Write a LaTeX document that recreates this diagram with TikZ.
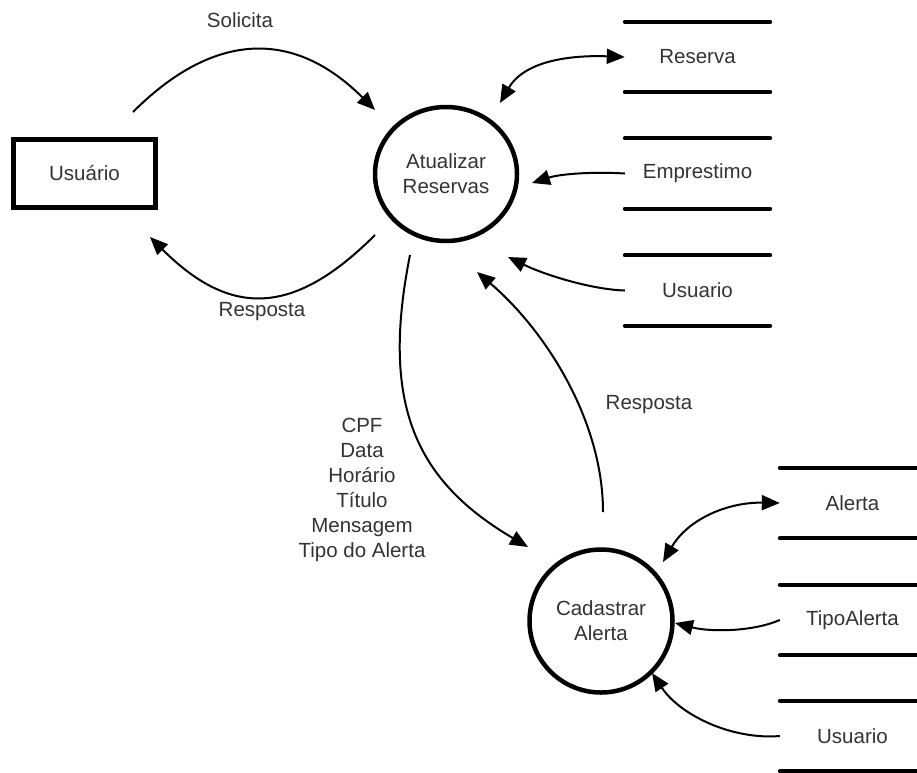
\documentclass[tikz,border=0pt]{standalone}
\usepackage{fontspec}
\setmainfont{Liberation Sans}
\usetikzlibrary{arrows.meta,shapes.geometric,calc}
\definecolor{ink}{HTML}{333333}
\begin{document}
\begin{tikzpicture}[x=1pt,y=-1pt,
  every node/.style={font=\fontsize{20.5}{25}\selectfont, text=ink, align=center, inner sep=0pt},
  process/.style={draw=black, line width=4.5pt, ellipse},
  entity/.style={draw=black, line width=5pt, rectangle, minimum width=142pt, minimum height=68pt},
  store/.style={minimum width=145pt, minimum height=70pt},
  storeline/.style={line width=4pt, line cap=round},
  tip/.style={Triangle[length=18pt,width=15pt]},
  flow/.style={line width=2pt, -{Triangle[length=18pt,width=15pt]}},
  dflow/.style={line width=2pt, {Triangle[length=18pt,width=15pt]}-{Triangle[length=18pt,width=15pt]}},
]
\useasboundingbox (0,0) rectangle (917,772);

% external entity and processes
\node[entity] (us) at (84.5,173.5) {Usuário};
\node[process, minimum width=142pt, minimum height=134pt] (ar) at (446,174) {Atualizar\\Reservas};
\node[process, minimum width=143pt, minimum height=143pt] (ca) at (601,621) {Cadastrar\\Alerta};

% data stores
\node[store] (sRes) at (697.5,57) {Reserva};
\node[store] (sEmp) at (697.5,173.5) {Emprestimo};
\node[store] (sUsuA) at (697.5,290.5) {Usuario};
\node[store] (sAle) at (852.5,503) {Alerta};
\node[store] (sTip) at (852.5,620) {TipoAlerta};
\node[store] (sUsuB) at (852.5,736) {Usuario};
\foreach \s in {sRes,sEmp,sUsuA,sAle,sTip,sUsuB}
  \draw[storeline] (\s.north west) -- (\s.north east) (\s.south west) -- (\s.south east);

% connector end points near the nodes
\coordinate (solS) at ($(us)+(48.5,-61.5)$);
\coordinate (solE) at ($(ar)+(-71,-64)$);
\coordinate (resS) at ($(ar)+(-71,61)$);
\coordinate (resE) at ($(us)+(65.5,63.5)$);
\coordinate (arRes) at ($(ar)+(54,-71)$);
\coordinate (arEmp) at ($(ar)+(86,9)$);
\coordinate (arUsu) at ($(ar)+(62,83)$);
\coordinate (cpfS) at ($(ar)+(-36,81)$);
\coordinate (cpfE) at ($(ca)+(-73,-74)$);
\coordinate (rspS) at ($(ca)+(2,-109)$);
\coordinate (rspE) at ($(ar)+(31,98)$);
\coordinate (caAle) at ($(ca)+(62,-59)$);
\coordinate (caTip) at ($(ca)+(74,2)$);
\coordinate (caUsu) at ($(ca)+(51,52)$);

% flows
\draw[flow] (solS) .. controls +(81,-81) and +(-81,-81) .. (solE);
\draw[flow] (resS) .. controls +(-81,81) and +(81,81) .. (resE);
\draw[dflow] (arRes) .. controls +(25,-43) and +(-52,-2) .. (sRes.west);
\draw[flow] (sEmp.west) .. controls +(-33,-2) and +(28,-9) .. (arEmp);
\draw[flow] (sUsuA.west) .. controls +(-33,-1) and +(37,18) .. (arUsu);
\draw[flow] (cpfS) .. controls +(-30,150) and +(-112,-66) .. (cpfE);
\draw[flow] (rspS) .. controls +(0,-92) and +(68,58) .. (rspE);
\draw[dflow] (caAle) .. controls +(25,-43) and +(-52,-1) .. (sAle.west);
\draw[flow] (sTip.west) .. controls +(-28,12) and +(35,9) .. (caTip);
\draw[flow] (sUsuB.west) .. controls +(-48,4) and +(28,42) .. (caUsu);

% flow labels
\node (lSol) at (240,20) {Solicita};
\node (lResA) at (262,312) {Resposta};
\node (lResB) at (649,405) {Resposta};
\node (lCpf) at (362,490) {CPF\\Data\\Horário\\Título\\Mensagem\\Tipo do Alerta};
\end{tikzpicture}
\end{document}
